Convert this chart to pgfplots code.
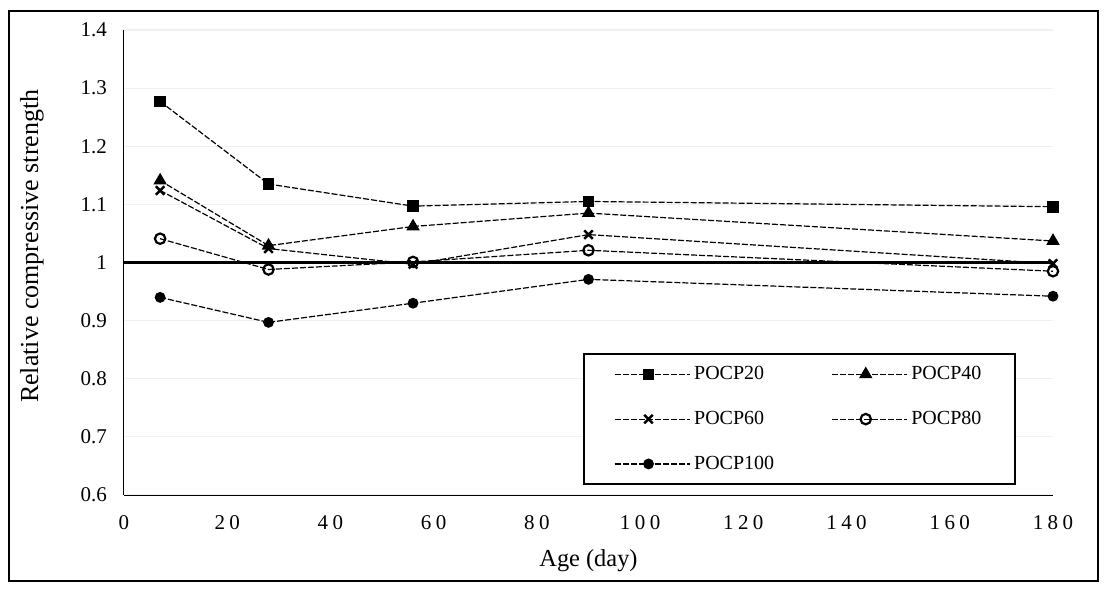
\documentclass[border=0pt]{standalone}
\usepackage{fontspec}
\setmainfont{Liberation Serif}
\usepackage{pgfplots}
\pgfplotsset{compat=1.18}

\newcommand{\g}{\kern2.2pt}

\begin{document}
\begin{tikzpicture}
  \begin{axis}[
      at={(0pt,0pt)}, anchor=origin,
      scale only axis,
      width=464.5pt, height=232.5pt,
      xmin=0, xmax=180,
      ymin=0.6, ymax=1.4,
      axis x line*=bottom,
      axis y line*=left,
      axis line style={line width=0.5pt, -},
      xtick={0,20,...,180},
      xticklabels={0,2\g0,4\g0,6\g0,8\g0,1\g0\g0,1\g2\g0,1\g4\g0,1\g6\g0,1\g8\g0},
      ytick={0.6,0.7,...,1.41},
      major tick length=0pt,
      ymajorgrids=true,
      grid style={gray!12, line width=0.6pt},
      /pgf/number format/assume math mode=true,
      ticklabel style={font=\fontsize{10.5}{12}\selectfont},
      xticklabel style={anchor=base, yshift=-17pt},
      yticklabel style={anchor=east, xshift=-5pt},
      xlabel={Age (day)},
      ylabel={Relative compressive strength},
      every axis x label/.style={at={(axis description cs:0.5,-0.142)}, anchor=center,
        font=\fontsize{12.2}{14}\selectfont},
      every axis y label/.style={at={(axis description cs:-0.099,0.535)}, rotate=90, anchor=center,
        font=\fontsize{13}{15}\selectfont},
      legend columns=2,
      legend style={
        at={(axis description cs:0.494,0.305)}, anchor=north west,
        draw=black, line width=1pt,
        font=\fontsize{10}{12}\selectfont,
        inner xsep=15pt, inner ysep=4pt,
        row sep=10.25pt,
        /tikz/column 2/.style={column sep=26.5pt},
      },
      legend cell align=left,
      legend image code/.code={%
        \draw[line width=0.6pt, dash pattern=on 3pt off 1pt,
              mark repeat=2, mark phase=2, #1]
          plot coordinates {(0pt,0pt) (17pt,0pt) (37.5pt,0pt)};},
      every axis plot/.append style={
        black, line width=0.6pt, dash pattern=on 3pt off 1pt},
    ]
    \addplot[solid, line width=1.5pt, forget plot] coordinates {(0,1) (180,1)};

    \addplot[mark=square*, mark size=2.6pt, mark options={solid}] coordinates {
      (7,1.277) (28,1.135) (56,1.097) (90,1.105) (180,1.096)};
    \addlegendentry{POCP20}
    \addplot[mark=triangle*, mark size=3.3pt, mark options={solid}] coordinates {
      (7,1.141) (28,1.029) (56,1.062) (90,1.085) (180,1.037)};
    \addlegendentry{POCP40}
    \addplot[mark=x, mark size=3pt, mark options={solid, line width=1.2pt}] coordinates {
      (7,1.124) (28,1.024) (56,0.997) (90,1.048) (180,0.998)};
    \addlegendentry{POCP60}
    \addplot[mark=o, mark size=2.6pt, mark options={solid, fill=white, line width=1.1pt}] coordinates {
      (7,1.041) (28,0.988) (56,1.001) (90,1.021) (180,0.985)};
    \addlegendentry{POCP80}
    \addplot[mark=*, mark size=2.4pt, mark options={solid}] coordinates {
      (7,0.940) (28,0.897) (56,0.930) (90,0.971) (180,0.942)};
    \addlegendentry{POCP100}
  \end{axis}
  \draw[line width=1pt] (-57.5pt,242pt) rectangle (487pt,-43pt);
  \pgfresetboundingbox
  \path[use as bounding box] (-62pt,247.5pt) rectangle (492.5pt,-50pt);
\end{tikzpicture}
\end{document}
